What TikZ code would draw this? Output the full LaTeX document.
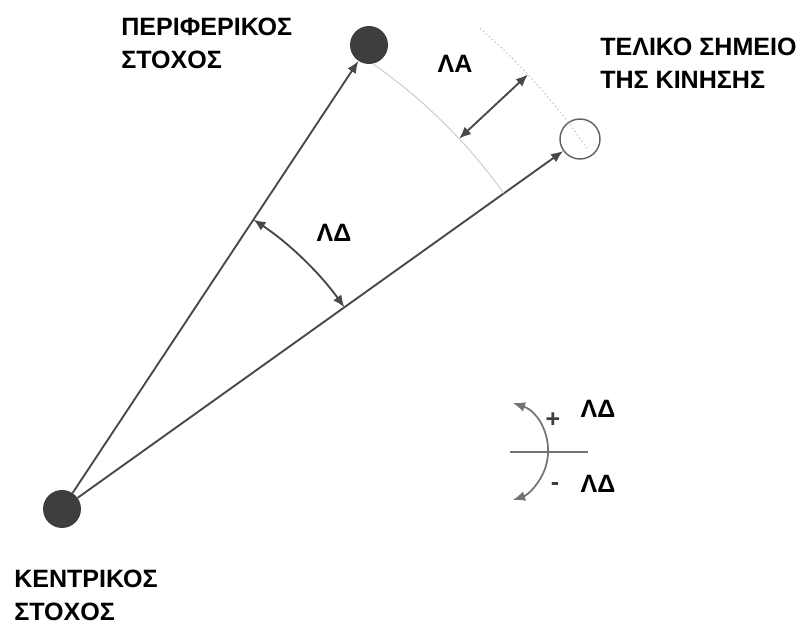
\documentclass[tikz,border=0pt]{standalone}
\usepackage{fontspec}
\setmainfont{Liberation Sans}
\usetikzlibrary{arrows.meta,positioning,calc}
\definecolor{dotgray}{RGB}{62,62,62}
\definecolor{raygray}{RGB}{72,72,72}
\definecolor{arcgray}{RGB}{200,204,196}
\definecolor{leggray}{RGB}{115,115,115}
\tikzset{
  target/.style={circle, fill=dotgray, minimum size=28.5pt, inner sep=0pt},
  endpoint/.style={circle, draw=raygray!85, line width=1.1pt, minimum size=30pt, inner sep=0pt},
  lbl/.style={font=\fontsize{18.8pt}{24.8pt}\selectfont\bfseries, inner sep=0pt, align=left},
  ray/.style={-{Latex[length=9pt,width=7.5pt]}, line width=1.4pt, raygray},
  angarr/.style={{Latex[length=9pt,width=7.5pt]}-{Latex[length=9pt,width=7.5pt]}, line width=1.4pt, raygray},
  thinarc/.style={line width=0.7pt, arcgray},
  dotarc/.style={line width=1pt, arcgray, dotted},
  legline/.style={line width=1.3pt, leggray},
  legarr/.style={{Latex[length=9pt,width=7.5pt]}-{Latex[length=9pt,width=7.5pt]}, line width=1.3pt, leggray}
}
\begin{document}
\begin{tikzpicture}[x=0.75pt,y=0.75pt]
  \useasboundingbox (0,0) rectangle (804,625);
  \node[target] (central) at (62,116) {};
  \node[target] (periph) at (369,580) {};
  \node[endpoint] (final) at (580,486) {};
  \coordinate (c) at (central.center);

  \node[lbl, anchor=north west] (periphlbl) at (121,607) {ΠΕΡΙΦΕΡΙΚΟΣ\\ΣΤΟΧΟΣ};
  \node[lbl, anchor=north west] (finallbl) at (600,587) {ΤΕΛΙΚΟ ΣΗΜΕΙΟ\\ΤΗΣ ΚΙΝΗΣΗΣ};
  \node[lbl, anchor=north west] (centrallbl) at (14,55) {ΚΕΝΤΡΙΚΟΣ\\ΣΤΟΧΟΣ};

  \draw[ray] (central) -- (periph);
  \draw[ray] (central) -- (final);

  % angular error between the two rays
  \coordinate (ldstart) at ($(c)+(56.51:347)$);
  \draw[angarr] (ldstart) arc[start angle=56.51, end angle=35.54, radius=347];
  \node[lbl] (ldlbl) at (334,392) {ΛΔ};

  % distance error
  \coordinate (lastart) at ($(c)+(55:543)$);
  \coordinate (lbstart) at ($(c)+(49:637)$);
  \coordinate (lain) at ($(c)+(43:543)$);
  \coordinate (laout) at ($(c)+(43:637)$);
  \draw[thinarc] (lastart) arc[start angle=55, end angle=35.54, radius=543];
  \draw[dotarc] (lbstart) arc[start angle=49, end angle=34.5, radius=637];
  \draw[angarr] (lain) -- (laout);
  \node[lbl] (lalbl) at (455,561) {ΛΑ};

  % sign legend
  \coordinate (legc) at (497,173.5);
  \coordinate (legl) at (510,173);
  \coordinate (legr) at (588,173);
  \coordinate (legtop) at ($(legc)+(71.7:51)$);
  \draw[legline] (legl) -- (legr);
  \draw[legarr] (legtop) arc[start angle=71.7, end angle=-71.7, radius=51];
  \node[lbl, text=dotgray] (plus) at (553,205) {+};
  \node[lbl, text=dotgray] (minus) at (555,138) {-};
  \node[lbl] (posl) at (598,216) {ΛΔ};
  \node[lbl] (negl) at (598,141) {ΛΔ};
\end{tikzpicture}
\end{document}
